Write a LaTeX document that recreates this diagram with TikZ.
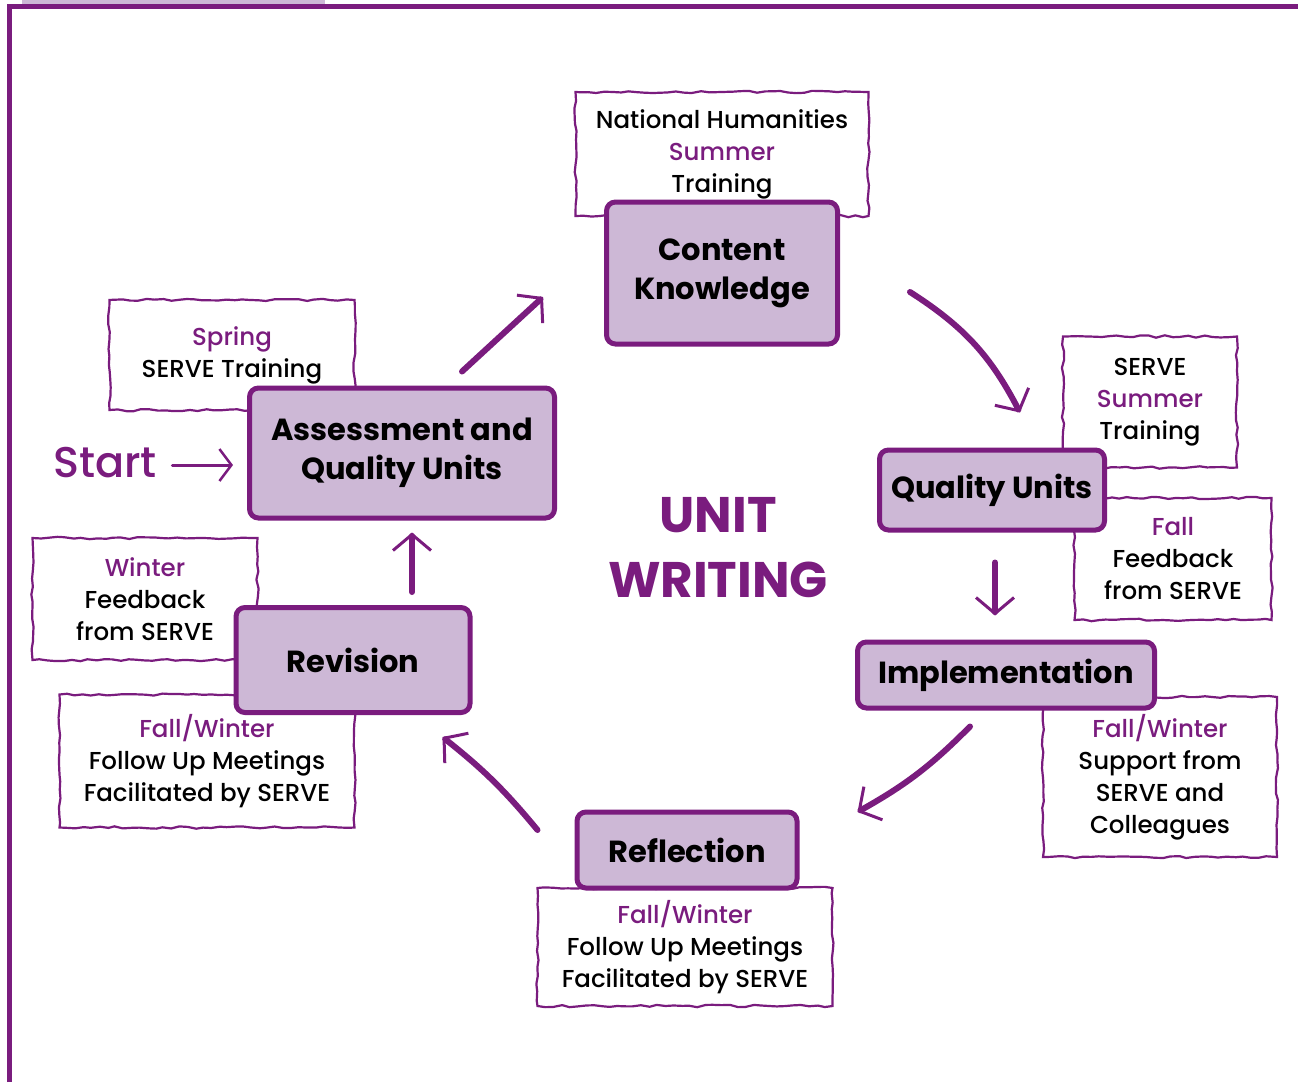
\documentclass[tikz,border=0pt]{standalone}
\usepackage{fontspec}
\setmainfont{Poppins}[UprightFont=* Medium, BoldFont=* Bold]
\usepackage{tikz}
\usetikzlibrary {arrows.meta,
                 calc,
                 decorations.pathmorphing,
                 positioning}
\definecolor{serve}{HTML}{7A1C7E}
\definecolor{stagefill}{HTML}{CDB8D6}
\newcommand{\season}[1]{\textcolor{serve}{#1}}
\tikzset{
        note/.style={draw=serve, line width=2.2pt, fill=white, align=center,
                     inner sep=0pt, font=\fontsize{24.5}{32}\selectfont,
                     decorate, decoration={random steps, segment length=8pt,
                     amplitude=1.2pt}},
        stage/.style={draw=serve, line width=5pt, fill=stagefill,
                      rounded corners=9pt, align=center, inner sep=0pt,
                      font=\bfseries\fontsize{30.5}{39}\selectfont},
        flow/.style={-{Straight Barb[length=16pt, width=38pt, line width=3pt]},
                     draw=serve, line width=6pt, line cap=round},
        startflow/.style={flow, line width=3pt,
                          -{Straight Barb[length=12pt, width=32pt, line width=2.5pt]}},
 }

\begin{document}
\begin{tikzpicture}[x=1pt, y=-1pt]
    \pgfmathsetseed{7}
    \useasboundingbox (0,0) rectangle (1298,1082);
    \fill[stagefill] (22,0) rectangle (325,3.5);
    \draw[serve, line width=5pt] (9,1082) -- (9,6) -- (1298,6);

    % side notes
    \node[note, minimum width=293pt, minimum height=124pt] (national) at (722,154)
         {National Humanities\\ \season{Summer}\\ Training};
    \node[note, minimum width=174pt, minimum height=131pt] (servesummer) at (1150,402)
         {SERVE\\ \season{Summer}\\ Training};
    \node[note, minimum width=197pt, minimum height=122pt] (fallfeedback) at (1173,559)
         {\season{Fall}\\ Feedback\\ from SERVE};
    \node[note, minimum width=234pt, minimum height=160pt] (support) at (1160,777)
         {\season{Fall/Winter}\\ Support from\\ SERVE and\\ Colleagues};
    \node[note, minimum width=295pt, minimum height=118pt] (meetingsb) at (685,947)
         {\season{Fall/Winter}\\ Follow Up Meetings\\ Facilitated by SERVE};
    \node[note, minimum width=225pt, minimum height=122pt] (winter) at (145,599)
         {\season{Winter}\\ Feedback\\ from SERVE};
    \node[note, minimum width=295pt, minimum height=133pt] (meetingsl) at (207,761)
         {\season{Fall/Winter}\\ Follow Up Meetings\\ Facilitated by SERVE};
    \node[note, minimum width=245pt, minimum height=110pt] (spring) at (232,355)
         {\season{Spring}\\ SERVE Training};

    % stages
    \node[stage, minimum width=231pt, minimum height=142pt] (content) at (722,273)
         {Content\\ Knowledge};
    \node[stage, minimum width=225pt, minimum height=80pt] (quality) at (992,490)
         {Quality Units};
    \node[stage, minimum width=297pt, minimum height=66pt] (implem) at (1006,675)
         {Implementation};
    \node[stage, minimum width=220pt, minimum height=76pt] (reflect) at (687,850)
         {Reflection};
    \node[stage, minimum width=234pt, minimum height=105pt] (revision) at (353,660)
         {Revision};
    \node[stage, minimum width=305pt, minimum height=130pt] (assess) at (402,453)
         {Assessment and\\ Quality Units};

    \node[serve, font=\fontsize{43}{48}\selectfont] (start) at (105,463) {Start};
    \node[serve, align=center, font=\bfseries\fontsize{50}{65}\selectfont]
         (title) at (718,548) {UNIT\\ WRITING};

    % cycle
    \draw[flow] ([xshift=60pt, yshift=14pt]assess.north) -- ([xshift=-61pt, yshift=-24pt]content.west);
    \draw[flow] ([xshift=70pt, yshift=-19pt]content.east) to[bend left=15]
         ([xshift=28pt, yshift=35pt]quality.north);
    \draw[flow] ([xshift=3pt, yshift=-30pt]quality.south) -- ([xshift=-11pt, yshift=24pt]implem.north);
    \draw[flow] ([xshift=-36pt, yshift=-16pt]implem.south) to[bend left=8]
         ([xshift=58pt, yshift=38pt]reflect.east);
    \draw[flow] ([xshift=-37pt, yshift=20pt]reflect.west) to[bend right=6]
         ([xshift=-30pt, yshift=-22pt]revision.south east);
    \draw[flow] ([xshift=59pt, yshift=13pt]revision.north) -- ([xshift=10pt, yshift=-12pt]assess.south);
    \draw[startflow] ([xshift=12pt, yshift=-2pt]start.east) -- ([xshift=-14pt, yshift=-12pt]assess.west);
\end{tikzpicture}
\end{document}
